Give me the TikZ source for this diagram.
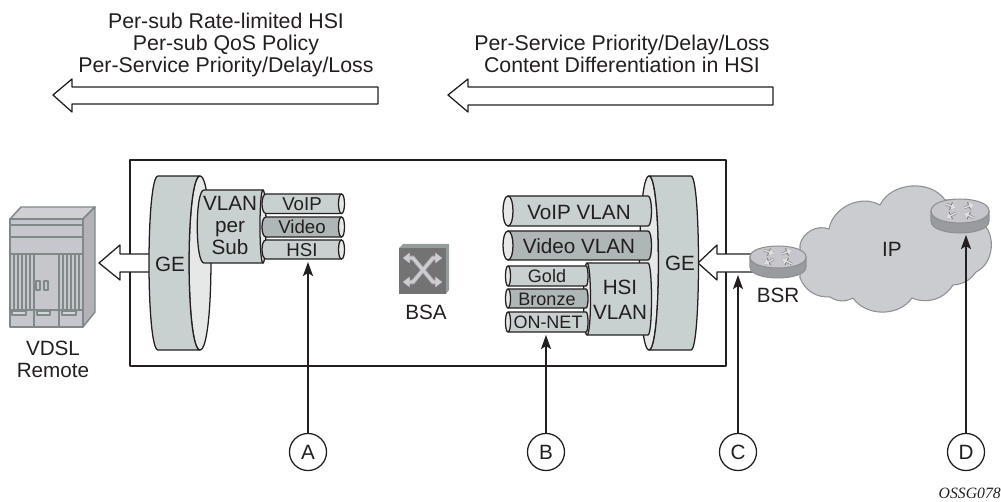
\documentclass[tikz,border=0pt]{standalone}
\usepackage{fontspec}
\setmainfont{Liberation Sans}
\newfontfamily\serifit{Liberation Serif}
\usetikzlibrary{arrows.meta}
\definecolor{ink}{HTML}{231F20}
\definecolor{body}{HTML}{C8D1CF}
\definecolor{dark}{HTML}{AEB7B5}
\definecolor{lite}{HTML}{E6E8E7}
\definecolor{cloudc}{HTML}{CBCCCF}
\definecolor{cloudl}{HTML}{8F9093}
\definecolor{rackf}{HTML}{C6C6CC}
\definecolor{rackl}{HTML}{7F8A88}
\tikzset{
 px/.style={x=0.75pt,y=-0.75pt},
 lw/.style={line width=0.95pt,draw=ink,line join=round},
 fat/.style={lw,fill=white},
 txt/.style={text=ink,align=center,inner sep=0pt},
 top/.style={txt,font=\fontsize{16}{16.5}\selectfont},
 big/.style={txt,font=\fontsize{15.5}{16.5}\selectfont},
 sm/.style={txt,font=\fontsize{13.5}{15}\selectfont},
 sml/.style={txt,font=\fontsize{14}{15}\selectfont},
 pointer/.style={line width=0.9pt,draw=ink,-{Stealth[length=10.5pt,width=7.5pt,inset=2.2pt]}},
 tag/.style={circle,draw=ink,line width=0.95pt,minimum size=27.8pt,inner sep=0pt,fill=white,font=\fontsize{15.5}{16}\selectfont,text=ink},
 rack/.style={draw=rackl,line width=1.1pt,line join=round},
 rarr/.style={line width=1.1pt,draw=white!88!black,-{Triangle[length=3.6pt,width=5pt]}},
 rarrb/.style={line width=1.9pt,draw=black!50,-{Triangle[length=4.4pt,width=6.2pt]}},
}
\newcommand{\cylL}[7]{%
 \draw[lw,fill=#7] (#1,#3) -- (#2,#3) .. controls ({#2+1.33*#6},#3) and ({#2+1.33*#6},#4) .. (#2,#4) -- (#1,#4) -- cycle;
 \draw[lw,fill=lite] (#1,#3) .. controls ({#1+1.33*#5},#3) and ({#1+1.33*#5},#4) .. (#1,#4) .. controls ({#1-1.33*#5},#4) and ({#1-1.33*#5},#3) .. (#1,#3) -- cycle;}
\newcommand{\cylR}[7]{%
 \draw[lw,fill=#7] (#2,#3) -- (#1,#3) .. controls ({#1-1.33*#5},#3) and ({#1-1.33*#5},#4) .. (#1,#4) -- (#2,#4) -- cycle;
 \draw[lw,fill=lite] (#2,#3) .. controls ({#2+1.33*#6},#3) and ({#2+1.33*#6},#4) .. (#2,#4) .. controls ({#2-1.33*#6},#4) and ({#2-1.33*#6},#3) .. (#2,#3) -- cycle;}
\newcommand{\routerglyph}[5]{\draw[#5] (#1,#2) -- (#3,#4);}
\newcommand{\routericon}[5]{%
 \draw[draw=cloudl,line width=0.8pt,fill=cloudl!90!white] ({#1-#3},#2) -- ({#1-#3},{#2+#5}) .. controls ({#1-#3},{#2+#5+1.33*#4}) and ({#1+#3},{#2+#5+1.33*#4}) .. ({#1+#3},{#2+#5}) -- ({#1+#3},#2) -- cycle;
 \draw[draw=cloudl,line width=0.8pt,fill=rackf] ({#1-#3},#2) .. controls ({#1-#3},{#2-1.33*#4}) and ({#1+#3},{#2-1.33*#4}) .. ({#1+#3},#2) .. controls ({#1+#3},{#2+1.33*#4}) and ({#1-#3},{#2+1.33*#4}) .. ({#1-#3},#2) -- cycle;
 \foreach \st in {rarrb,rarr}{
 \routerglyph{{#1-14}}{{#2-7}}{{#1-4}}{{#2-3}}{\st}
 \routerglyph{{#1+4}}{{#2-3}}{{#1+14}}{{#2-7}}{\st}
 \routerglyph{{#1-4}}{{#2+2}}{{#1-14}}{{#2+7}}{\st}
 \routerglyph{{#1+14}}{{#2+7}}{{#1+4}}{{#2+2}}{\st}}}
\begin{document}
\begin{tikzpicture}[px]
\useasboundingbox (0,0) rectangle (1001,502);
\node[top] (t1) at (226,45) {Per-sub Rate-limited HSI\\Per-sub QoS Policy\\Per-Service Priority/Delay/Loss};
\node[top] (t2) at (622,54) {Per-Service Priority/Delay/Loss\\Content Differentiation in HSI};
\draw[fat] (53,95) -- (72,79) -- (72,87) -- (378,87) -- (378,104) -- (72,104) -- (72,112) -- cycle;
\draw[fat] (448,95) -- (468,79) -- (468,87) -- (773,87) -- (773,105) -- (468,105) -- (468,112) -- cycle;
\draw[lw] (130,160) rectangle (726,366);
\draw[draw=cloudl,line width=0.8pt,fill=cloudc] (800,245)
 to[bend left=50] (829,229) to[bend left=55] (880,205) to[bend left=60] (945,200)
 to[bend left=35] (981,222) to[bend left=60] (976,272) to[bend left=25] (953,285)
 to[bend left=40] (912,298) to[bend left=55] (853,298) to[bend left=30] (830,297)
 to[bend left=35] (800,278) -- cycle;
\node[big] (ip) at (892,249) {IP};
\draw[fat] (99,263) -- (120,245) -- (120,254) -- (155,254) -- (155,272) -- (120,272) -- (120,280) -- cycle;
\draw[fat] (698,263) -- (717,245) -- (717,254) -- (760,254) -- (760,272) -- (717,272) -- (717,280) -- cycle;
\draw[rack,fill=rackf!85!white] (10,219) -- (21,207) -- (95,207) -- (83,219) -- cycle;
\draw[rack,fill=rackf!90!black] (83,219) -- (95,207) -- (95,312) -- (83,327) -- cycle;
\draw[rack,fill=rackf] (10,219) rectangle (83,327);
\draw[rack] (10,225) -- (83,225) (10,237) -- (83,237) (10,254) -- (83,254) (10,310) -- (83,310);
\foreach \xx in {14,18,22,26,30,34,59,63,67,71,75,79}{\draw[rack,line width=1.5pt] (\xx,254) -- (\xx,310);}
\draw[rack,line width=1.5pt] (34,310) -- (34,327) (59,310) -- (59,327);
\draw[rack,fill=rackf!70!white,line width=0.8pt] (12,311) rectangle (26,315) (37,311) rectangle (50,315) (62,311) rectangle (76,315);
\draw[rack,line width=0.8pt] (36,281) rectangle (40,290) (44,281) rectangle (48,290);
\node[big] (vdsl) at (53,359) {VDSL\\Remote};
\draw[lw,fill=lite] (200,176) .. controls (214.6,176) and (214.6,350) .. (200,350) .. controls (185.4,350) and (185.4,176) .. (200,176) -- cycle;
\draw[lw,fill=body] (158,176) -- (200,176) .. controls (185.4,176) and (185.4,350) .. (200,350) -- (158,350) .. controls (146,350) and (146,176) .. (158,176) -- cycle;
\node[big] (gel) at (170,264) {GE};
\draw[lw,fill=body] (263,190) -- (204,190) .. controls (195,190) and (195,263) .. (204,263) -- (263,263) -- cycle;
\draw[lw,fill=lite] (263,190) .. controls (267,190) and (267,263) .. (263,263) .. controls (259,263) and (259,190) .. (263,190) -- cycle;
\cylR{266}{341.5}{194}{213.5}{4}{3}{body}
\cylR{266}{341.5}{217}{237}{4}{3}{dark}
\cylR{266}{341.5}{240}{259}{4}{3}{body}
\node[big] (vps) at (230,225.5) {VLAN\\per\\Sub};
\node[sml] (s1) at (302,204) {VoIP};
\node[sml] (s2) at (302,227) {Video};
\node[sml] (s3) at (302,250) {HSI};
\draw[draw=none,fill=rackl!70!rackf] (399,248) -- (403,244) -- (449,244) -- (449,290) -- (446,294) -- cycle;
\draw[draw=none,fill=black!55] (399,248) rectangle (446,294);
\foreach \cc/\ww in {black!35/3.4pt,rackf!90!white/2.2pt}{
 \draw[draw=\cc,line width=\ww,{Triangle[length=5pt,width=7.4pt]}-{Triangle[length=5pt,width=7.4pt]}] (403,258) -- (413,258) -- (433,282) -- (442,282);
 \draw[draw=\cc,line width=\ww,{Triangle[length=5pt,width=7.4pt]}-{Triangle[length=5pt,width=7.4pt]}] (403,282) -- (413,282) -- (433,258) -- (442,258);}
\node[big] (bsa) at (426,312) {BSA};
\draw[lw,fill=lite] (649,176) .. controls (661.6,176) and (661.6,350) .. (649,350) .. controls (636.4,350) and (636.4,176) .. (649,176) -- cycle;
\draw[lw,fill=body] (649,176) -- (691,176) .. controls (701,176) and (701,350) .. (691,350) -- (649,350) .. controls (661.6,350) and (661.6,176) .. (649,176) -- cycle;
\node[big] (ger) at (680,263) {GE};
\cylL{508}{648}{196}{226}{5}{3.5}{body}
\cylL{508}{648}{231}{260}{5}{3.5}{dark}
\cylL{587}{648}{263}{335}{3.5}{3.5}{body}
\cylL{508}{586}{266}{286}{2.5}{2}{body}
\cylL{508}{586}{289}{308}{2.5}{2}{dark}
\cylL{508}{586}{312}{332}{2.5}{2}{body}
\node[big] (v1) at (579,212) {VoIP VLAN};
\node[big] (v2) at (579,246) {Video VLAN};
\node[sm] (g1) at (547,276) {Gold};
\node[sm] (g2) at (547,299) {Bronze};
\node[sm] (g3) at (548,322) {ON-NET};
\node[big] (hv) at (620,300) {HSI\\[2pt]VLAN};
\routericon{778}{257}{28}{11}{10}
\routericon{960}{211}{29}{12}{10}
\node[big] (bsr) at (778,295) {BSR};
\node[tag] (A) at (308,452) {A};
\node[tag] (B) at (546,452) {B};
\node[tag] (C) at (738,452) {C};
\node[tag] (D) at (966,452) {D};
\coordinate (ta) at (308,262);
\coordinate (tb) at (546,335);
\coordinate (tc) at (738,275);
\coordinate (td) at (966,235);
\draw[pointer] (A) -- (ta);
\draw[pointer] (B) -- (tb);
\draw[pointer] (C) -- (tc);
\draw[pointer] (D) -- (td);
\node[inner sep=0pt,anchor=east,text=ink,font=\fontsize{11.8}{13}\selectfont\serifit\itshape] (code) at (1001,493) {OSSG078};
\end{tikzpicture}
\end{document}
